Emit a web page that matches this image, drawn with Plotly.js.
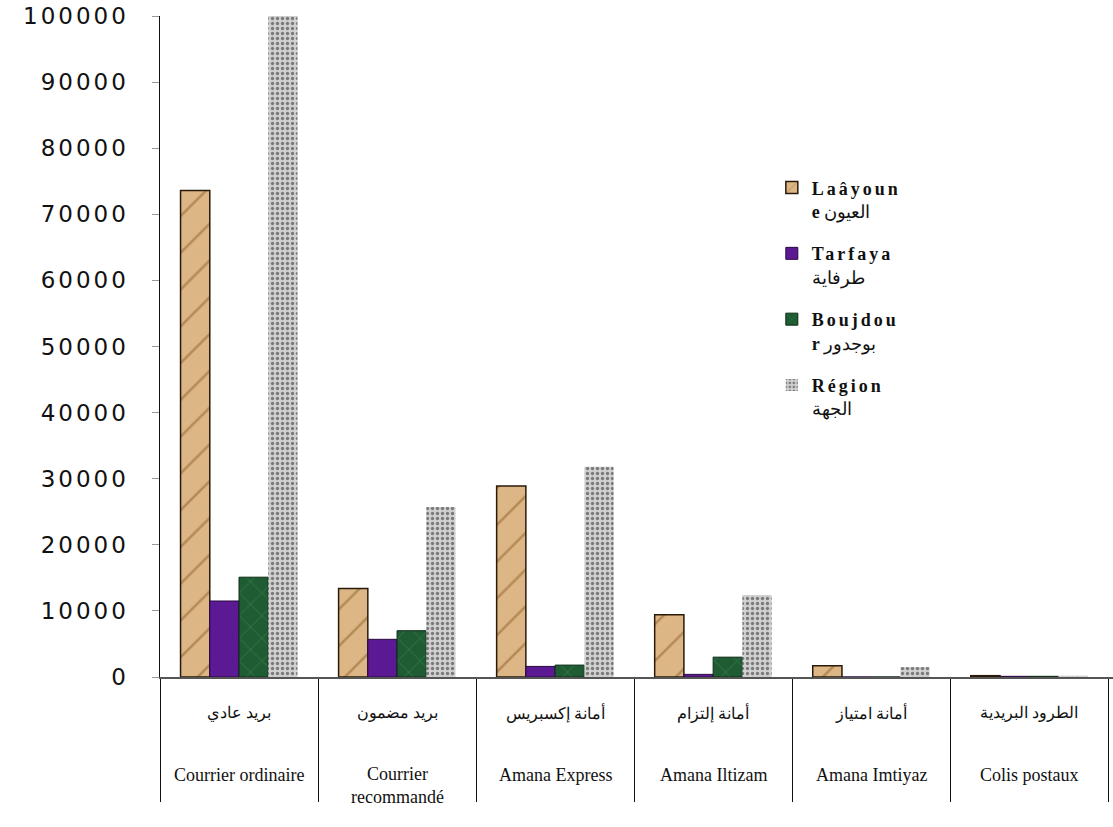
<!DOCTYPE html>
<html>
<head>
<meta charset="utf-8">
<script src="https://cdn.plot.ly/plotly-3.0.1.min.js"></script>
<style>
html,body{margin:0;padding:0;background:#fff;}
#chart{width:1113px;height:827px;}
.ytick text{letter-spacing:3px;}
.legendtext tspan.line:first-child{letter-spacing:3px;}
</style>
</head>
<body>
<div id="chart"></div>
<script>
const categories = ["Courrier ordinaire","Courrier recommandé","Amana Express","Amana Iltizam","Amana Imtiyaz","Colis postaux"];
const labelsFr = ["Courrier ordinaire","Courrier<br>recommandé","Amana Express","Amana Iltizam","Amana Imtiyaz","Colis postaux"];
const labelsAr = ["بريد عادي","بريد مضمون","أمانة إكسبريس","أمانة إلتزام","أمانة امتياز","الطرود البريدية"];
const seriesNames = ["<b>Laâyoun</b><br><b>e</b> العيون","<b>Tarfaya</b><br>طرفاية","<b>Boujdou</b><br><b>r</b> بوجدور","<b>Région</b><br>الجهة"];
const laayoune = [73600, 13400, 28900, 9400, 1700, 200];
const tarfaya  = [11500, 5700, 1600, 400, 0, 100];
const boujdour = [15100, 7000, 1800, 3000, 0, 100];
const region   = [100000, 25700, 31800, 12400, 1500, 200];

const seriesValues = [laayoune, tarfaya, boujdour, region];
const styles = [
  {color:"#d9b27c", line:{color:"#2a1a0a", width:1.5}, pattern:{shape:"/", fgcolor:"#b58a58", bgcolor:"#dcb684", size:26, solidity:0.1}},
  {color:"#5b1a94", line:{color:"#2a0a40", width:1}, pattern:{shape:"", fgcolor:"#3d0a6a", bgcolor:"#5b1a94", size:8, solidity:0.2}},
  {color:"#1f5c33", line:{color:"#0b2a15", width:1}, pattern:{shape:"x", fgcolor:"#367a4c", bgcolor:"#1f5c33", size:16, solidity:0.1}},
  {color:"#bdbdbd", line:{color:"#bdbdbd", width:0}, pattern:{shape:".", fgcolor:"#7a7a7a", bgcolor:"#d0d0d0", size:5, solidity:0.35}}
];

const traces = seriesValues.map((vals, i) => ({
  type: "bar",
  name: seriesNames[i],
  x: categories,
  y: vals,
  legendgroup: "g" + i,
  marker: {color: styles[i].color, line: styles[i].line, pattern: styles[i].pattern},
  hoverinfo: "x+y"
}));

const annotations = [];
categories.forEach((c, i) => {
  annotations.push({x: c, xref: "x", y: 0, yref: "paper", yshift: -36, yanchor: "middle", showarrow: false,
    text: labelsAr[i], font: {family: "Liberation Serif, serif", size: 16, color: "#111"}});
  annotations.push({x: c, xref: "x", y: 0, yref: "paper", yshift: (i === 1 ? -108 : -98), yanchor: "middle", showarrow: false,
    text: labelsFr[i], font: {family: "Liberation Serif, serif", size: 18, color: "#111"}});
});

const layout = {
  width: 1113, height: 827,
  margin: {l: 160, r: 0, t: 16, b: 150},
  paper_bgcolor: "#fff", plot_bgcolor: "#fff",
  barmode: "group", bargap: 0.26, bargroupgap: 0,
  showlegend: true,
  legend: {x: 0.642, y: 0.768, xanchor: "left", yanchor: "top", valign: "top",
    traceorder: "grouped", tracegroupgap: 16, itemwidth: 30,
    font: {family: "Liberation Serif, serif", size: 18, color: "#111"}, bgcolor: "rgba(0,0,0,0)"},
  xaxis: {type: "category", range: [-0.5, 5.53], showline: true, linecolor: "#555", linewidth: 1.5,
    ticks: "outside", tickson: "boundaries", ticklen: 123, tickcolor: "#111", tickwidth: 1,
    showticklabels: false, showgrid: false, zeroline: false, fixedrange: true},
  yaxis: {range: [0, 100000], dtick: 10000, showline: true, linecolor: "#111", linewidth: 1.5,
    ticks: "outside", ticklen: 7, tickcolor: "#999", ticklabelstandoff: 18,
    tickfont: {family: "DejaVu Sans, sans-serif", size: 23, color: "#111"},
    showgrid: false, zeroline: false, tickformat: "d", fixedrange: true},
  annotations: annotations
};

Plotly.newPlot("chart", traces, layout, {displayModeBar: false, staticPlot: true});
</script>
</body>
</html>
